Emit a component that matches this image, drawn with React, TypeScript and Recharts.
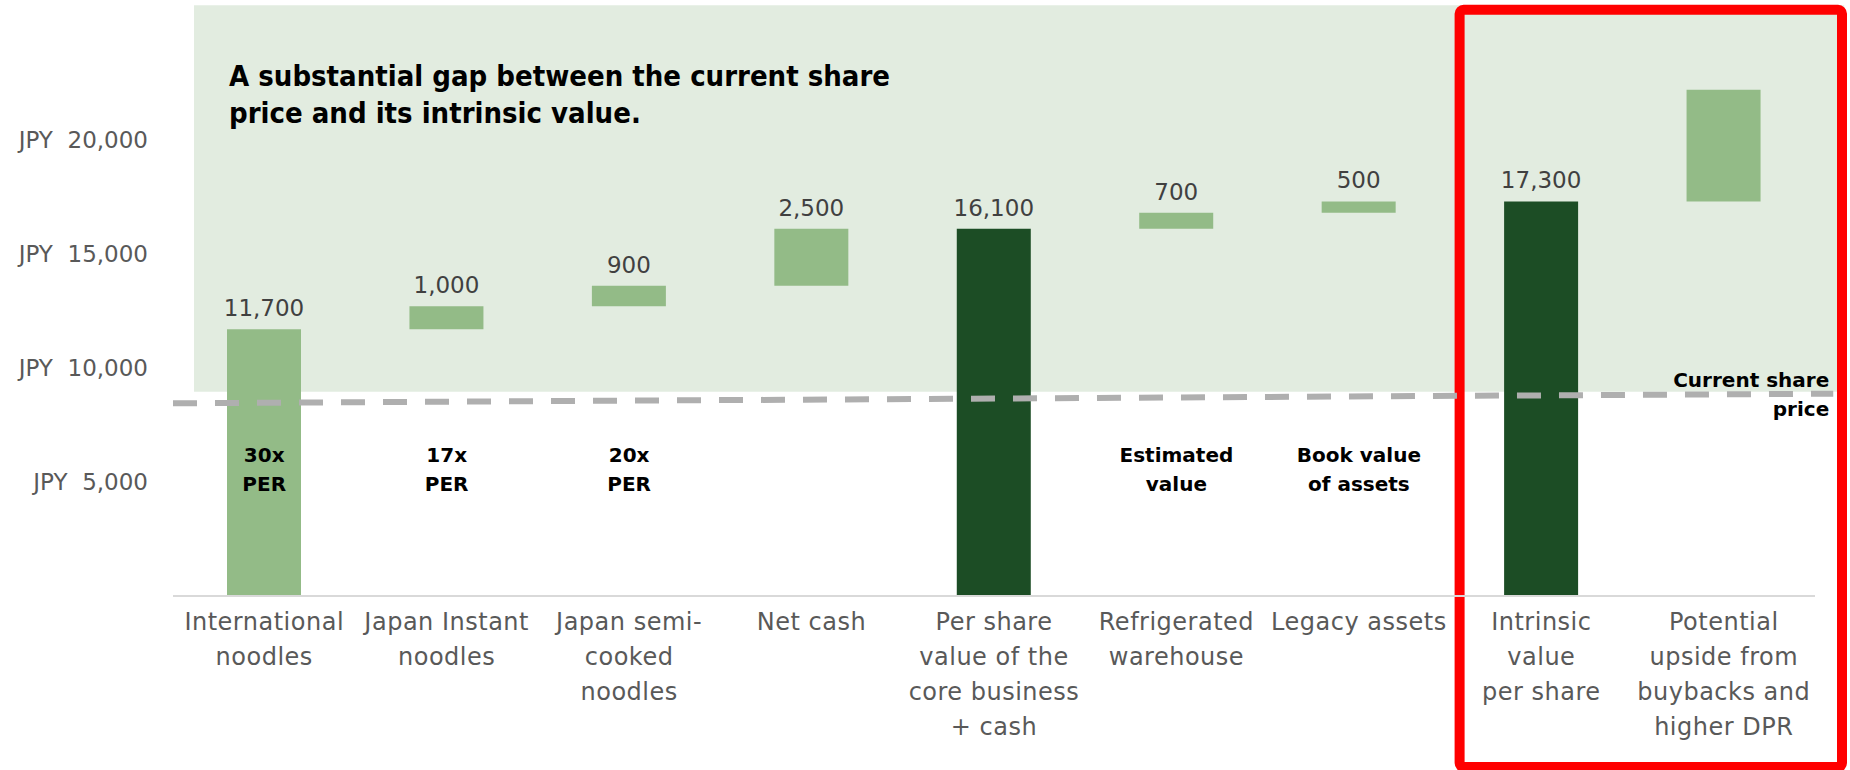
import {
  ComposedChart,
  Bar,
  Cell,
  XAxis,
  YAxis,
  LabelList,
  ReferenceArea,
  ReferenceLine,
  ReferenceDot,
} from 'recharts';

// categories, one entry per line of the axis label
const categoryLines: string[][] = [
  ['International', 'noodles'],
  ['Japan Instant', 'noodles'],
  ['Japan semi-', 'cooked', 'noodles'],
  ['Net cash'],
  ['Per share', 'value of the', 'core business', '+ cash'],
  ['Refrigerated', 'warehouse'],
  ['Legacy assets'],
  ['Intrinsic', 'value', 'per share'],
  ['Potential', 'upside from', 'buybacks and', 'higher DPR'],
];

// JPY per share contributed by each step (totals restart from zero)
const stepValues = [11700, 1000, 900, 2500, 16100, 700, 500, 17300, 4900];
const barKinds = ['step', 'step', 'step', 'step', 'total', 'step', 'step', 'total', 'step'];
const valueLabels = ['11,700', '1,000', '900', '2,500', '16,100', '700', '500', '17,300', ''];
const noteLines: string[][] = [
  ['30x', 'PER'],
  ['17x', 'PER'],
  ['20x', 'PER'],
  [],
  [],
  ['Estimated', 'value'],
  ['Book value', 'of assets'],
  [],
  [],
];
const yTicks = [5000, 10000, 15000, 20000];
// current share price line, left end then right end
const priceLine = [8450, 8870];

const LIGHT = '#93bb87';
const DARK = '#1c4d25';
const SHADE = '#e2ece0';
const FONT = '"DejaVu Sans", sans-serif';
const TITLE_FONT = '"DejaVu Sans Condensed", "DejaVu Sans", sans-serif';

const CHART_W = 1850;
const PLOT_LEFT = 173;
const PLOT_RIGHT_MARGIN = 35;
// half a category band, so the numeric helper axis puts index i on band centre i
const HALF_BAND = (CHART_W - PLOT_LEFT - PLOT_RIGHT_MARGIN) / categoryLines.length / 2;

const categoryNames = categoryLines.map((l) => l.join(' '));

const data = (() => {
  let running = 0;
  return stepValues.map((v, i) => {
    const total = barKinds[i] === 'total';
    const base = total ? 0 : running;
    if (!total) running += v;
    return {
      name: categoryNames[i],
      pos: i,
      base,
      delta: v,
      label: valueLabels[i],
      kind: barKinds[i],
    };
  });
})();

function CategoryTick({ x, y, payload }: any) {
  const i = categoryNames.indexOf(payload.value);
  const lines = categoryLines[i] ?? [];
  const note = noteLines[i] ?? [];
  return (
    <g>
      {note.map((t, k) => (
        <text
          key={'n' + k}
          x={x}
          y={y - 134 + k * 29}
          textAnchor="middle"
          fontFamily={FONT}
          fontWeight="bold"
          fontSize={20}
          fill="#000"
        >
          {t}
        </text>
      ))}
      {lines.map((t, k) => (
        <text
          key={k}
          x={x}
          y={y + 34 + k * 35}
          textAnchor="middle"
          fontFamily={FONT}
          fontSize={24}
          letterSpacing={0.5}
          fill="#595959"
        >
          {t}
        </text>
      ))}
    </g>
  );
}

function ValueLabel({ x, y, width, value }: any) {
  if (!value) return null;
  return (
    <text
      x={x + width / 2}
      y={y - 13}
      textAnchor="middle"
      fontFamily={FONT}
      fontSize={23}
      fill="#404040"
    >
      {value}
    </text>
  );
}

function PriceLabel({ viewBox }: any) {
  const { x, y } = viewBox;
  return (
    <g fontFamily={FONT} fontWeight="bold" fontSize={20} fill="#000" textAnchor="end">
      <text x={x - 4} y={y - 7}>Current share</text>
      <text x={x - 4} y={y + 22}>price</text>
    </g>
  );
}

export default function App() {
  return (
    <div style={{ position: 'absolute', left: 0, top: 0, width: 1850, height: 770, background: '#fff' }}>
      <ComposedChart
        width={CHART_W}
        height={770}
        data={data}
        margin={{ top: 3, right: PLOT_RIGHT_MARGIN, bottom: 0, left: 0 }}
      >
        <XAxis
          dataKey="name"
          interval={0}
          height={174}
          tickSize={0}
          tickMargin={0}
          tickLine={false}
          axisLine={{ stroke: '#d9d9d9', strokeWidth: 2 }}
          tick={<CategoryTick />}
        />
        <XAxis
          xAxisId="pos"
          dataKey="pos"
          type="number"
          domain={[0, categoryLines.length - 1]}
          padding={{ left: HALF_BAND, right: HALF_BAND }}
          allowDataOverflow
          hide
        />
        <YAxis
          width={PLOT_LEFT}
          domain={[0, 26000]}
          ticks={yTicks}
          axisLine={false}
          tickLine={false}
          tickSize={0}
          tickMargin={25}
          tick={{ fontFamily: FONT, fontSize: 23, fill: '#595959' }}
          tickFormatter={(v: number) => 'JPY\u00a0\u00a0' + v.toLocaleString('en-US')}
        />
        <ReferenceArea
          xAxisId="pos"
          x1={-0.385}
          x2={8.66}
          y1={8950}
          y2={25900}
          fill={SHADE}
          fillOpacity={1}
          stroke="none"
          ifOverflow="visible"
        />
        <Bar dataKey="base" stackId="a" fill="transparent" barSize={74} isAnimationActive={false} />
        <Bar dataKey="delta" stackId="a" barSize={74} isAnimationActive={false}>
          {data.map((d, i) => (
            <Cell key={i} fill={d.kind === 'total' ? DARK : LIGHT} />
          ))}
          <LabelList dataKey="label" content={<ValueLabel />} />
        </Bar>
        <ReferenceLine
          xAxisId="pos"
          segment={[
            { x: -0.5, y: priceLine[0] },
            { x: 8.6, y: priceLine[1] },
          ]}
          stroke="#afafaf"
          strokeWidth={6}
          strokeDasharray="24 18"
          ifOverflow="visible"
        />
        <ReferenceDot
          xAxisId="pos"
          x={8.6}
          y={priceLine[1]}
          r={0}
          fill="none"
          stroke="none"
          ifOverflow="visible"
          label={<PriceLabel />}
        />
        <ReferenceArea
          xAxisId="pos"
          x1={6.552}
          x2={8.648}
          y1={-7500}
          y2={25700}
          fill="none"
          stroke="#ff0000"
          strokeWidth={10}
          radius={4}
          ifOverflow="visible"
        />
      </ComposedChart>
      <svg
        width={1850}
        height={770}
        style={{ position: 'absolute', left: 0, top: 0, pointerEvents: 'none' }}
      >
        <g fontFamily={TITLE_FONT} fontWeight="bold" fontSize={29} fill="#000">
          <text x={229} y={86}>A substantial gap between the current share</text>
          <text x={229} y={123}>price and its intrinsic value.</text>
        </g>
      </svg>
    </div>
  );
}
